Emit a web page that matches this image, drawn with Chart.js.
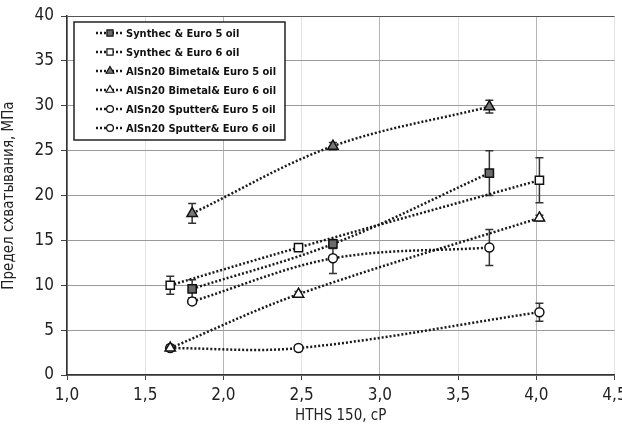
<!DOCTYPE html>
<html>
<head>
<meta charset="utf-8">
<script src="https://cdn.jsdelivr.net/npm/chart.js@4.4.1/dist/chart.umd.min.js"></script>
<style>
	html, body { margin: 0; padding: 0; background: #fff; }
</style>
</head>
<body>
<canvas id="chart" width="622" height="432"></canvas>
<script>
// x positions (HTHS 150, cP) for each oil
const xEuro5 = [1.8, 2.7, 3.7];
const xEuro6 = [1.66, 2.48, 4.02];

// seizure limit, MPa, and error half-widths
const synthecE5 = [9.6, 14.6, 22.5];
const synthecE5Err = [1.0, 0.5, 2.5];
const synthecE6 = [10.0, 14.2, 21.7];
const synthecE6Err = [1.0, 0.3, 2.5];
const bimetalE5 = [18.0, 25.5, 29.9];
const bimetalE5Err = [1.1, 0.4, 0.7];
const bimetalE6 = [3.0, 9.0, 17.5];
const bimetalE6Err = [0.3, 0.3, 0.3];
const sputterE5 = [8.2, 13.0, 14.2];
const sputterE5Err = [0.3, 1.7, 2.0];
const sputterE6 = [3.0, 3.0, 7.0];
const sputterE6Err = [0.3, 0.3, 1.0];

const seriesLabels = [
	'Synthec & Euro 5 oil',
	'Synthec & Euro 6 oil',
	'AlSn20 Bimetal& Euro 5 oil',
	'AlSn20 Bimetal& Euro 6 oil',
	'AlSn20 Sputter& Euro 5 oil',
	'AlSn20 Sputter& Euro 6 oil',
];

const xTitle = 'HTHS 150, cP';
const yTitle = 'Предел схватывания, МПа';

const FONT = "'Liberation Sans Narrow', 'DejaVu Sans Condensed', sans-serif";

const toPoints = (xs, ys) => xs.map((x, i) => ({ x: x, y: ys[i] }));

const makeSet = (label, xs, ys, err, style, radius, fill) => ({
	label: label,
	data: toPoints(xs, ys),
	errors: err,
	showLine: true,
	tension: 0.35,
	borderColor: '#1a1a1a',
	borderWidth: 2.5,
	borderDash: [2, 2],
	pointStyle: style,
	pointRadius: radius,
	pointBackgroundColor: fill,
	pointBorderColor: '#111',
	pointBorderWidth: 1.5,
});

// error bars under the markers
const errorBars = {
	id: 'errorBars',
	beforeDatasetsDraw(chart) {
		const ctx = chart.ctx;
		const xs = chart.scales.x;
		const ys = chart.scales.y;
		ctx.save();
		ctx.strokeStyle = '#333';
		ctx.lineWidth = 1.5;
		chart.data.datasets.forEach((ds) => {
			ds.data.forEach((p, i) => {
				const e = ds.errors[i];
				const px = xs.getPixelForValue(p.x);
				const top = ys.getPixelForValue(p.y + e);
				const bot = ys.getPixelForValue(p.y - e);
				ctx.beginPath();
				ctx.moveTo(px, top);
				ctx.lineTo(px, bot);
				ctx.moveTo(px - 4, top);
				ctx.lineTo(px + 4, top);
				ctx.moveTo(px - 4, bot);
				ctx.lineTo(px + 4, bot);
				ctx.stroke();
			});
		});
		ctx.restore();
	},
};

// boxed legend inside the plot, top left
const boxLegend = {
	id: 'boxLegend',
	afterDraw(chart) {
		const ctx = chart.ctx;
		const left = 74, top = 22, w = 211, h = 118;
		ctx.save();
		ctx.fillStyle = '#fff';
		ctx.fillRect(left, top, w, h);
		ctx.strokeStyle = '#222';
		ctx.lineWidth = 1.5;
		ctx.strokeRect(left, top, w, h);
		chart.data.datasets.forEach((ds, i) => {
			const y = top + 11 + i * 19;
			ctx.strokeStyle = '#1a1a1a';
			ctx.lineWidth = 2.5;
			ctx.setLineDash([2, 2]);
			ctx.beginPath();
			ctx.moveTo(96, y);
			ctx.lineTo(123, y);
			ctx.stroke();
			ctx.setLineDash([]);
			ctx.fillStyle = ds.pointBackgroundColor;
			ctx.strokeStyle = ds.pointBorderColor;
			ctx.lineWidth = 1.2;
			Chart.helpers.drawPoint(ctx, {
				pointStyle: ds.pointStyle,
				radius: ds.pointRadius * 0.75,
				rotation: 0,
				borderWidth: 1.2,
			}, 110, y);
			ctx.fillStyle = '#111';
			ctx.font = 'bold 11px ' + FONT;
			ctx.textBaseline = 'middle';
			ctx.fillText(ds.label, 126, y + 1);
		});
		ctx.restore();
	},
};

new Chart(document.getElementById('chart').getContext('2d'), {
	type: 'scatter',
	data: {
		datasets: [
			makeSet(seriesLabels[0], xEuro5, synthecE5, synthecE5Err, 'rect', 5.8, '#6a6a6a'),
			makeSet(seriesLabels[1], xEuro6, synthecE6, synthecE6Err, 'rect', 5.8, '#fff'),
			makeSet(seriesLabels[2], xEuro5, bimetalE5, bimetalE5Err, 'triangle', 6, '#777'),
			makeSet(seriesLabels[3], xEuro6, bimetalE6, bimetalE6Err, 'triangle', 6, '#fff'),
			makeSet(seriesLabels[4], xEuro5, sputterE5, sputterE5Err, 'circle', 4.5, '#fff'),
			makeSet(seriesLabels[5], xEuro6, sputterE6, sputterE6Err, 'circle', 4.5, '#fff'),
		],
	},
	options: {
		responsive: false,
		animation: false,
		layout: { padding: { top: 16, right: 5, left: 0, bottom: 7 } },
		plugins: {
			legend: { display: false },
			tooltip: { enabled: false },
		},
		scales: {
			x: {
				type: 'linear',
				min: 1,
				max: 4.5,
				ticks: {
					stepSize: 0.5,
					color: '#222',
					font: { family: FONT, size: 17 },
					padding: 5,
					maxRotation: 0,
					callback: (v) => v.toFixed(1).replace('.', ','),
				},
				grid: {
					color: (c) => (c.tick && Number.isInteger(c.tick.value) ? '#b5b5b5' : '#e4e4e4'),
					tickLength: 5,
					tickColor: '#444',
				},
				border: { color: '#333', width: 1.5 },
				title: {
					display: true,
					text: xTitle,
					color: '#222',
					font: { family: FONT, size: 15 },
					padding: { top: 0, bottom: 0 },
				},
				afterFit(scale) {
					scale.height = 50;
					scale.paddingLeft = 0;
					scale.paddingRight = 0;
				},
			},
			y: {
				min: 0,
				max: 40,
				ticks: {
					stepSize: 5,
					color: '#222',
					font: { family: FONT, size: 17 },
					padding: 7,
				},
				grid: {
					color: (c) => (c.tick && c.tick.value === 40 ? '#555' : '#9a9a9a'),
					tickLength: 6,
					tickColor: '#444',
				},
				border: { color: '#333', width: 1.5 },
				title: {
					display: true,
					text: yTitle,
					color: '#222',
					font: { family: FONT, size: 15 },
					padding: { top: 0, bottom: 2 },
				},
				afterFit(scale) {
					scale.width = 67;
					scale.paddingTop = 0;
					scale.paddingBottom = 0;
				},
			},
		},
	},
	plugins: [errorBars, boxLegend],
});
</script>
</body>
</html>
